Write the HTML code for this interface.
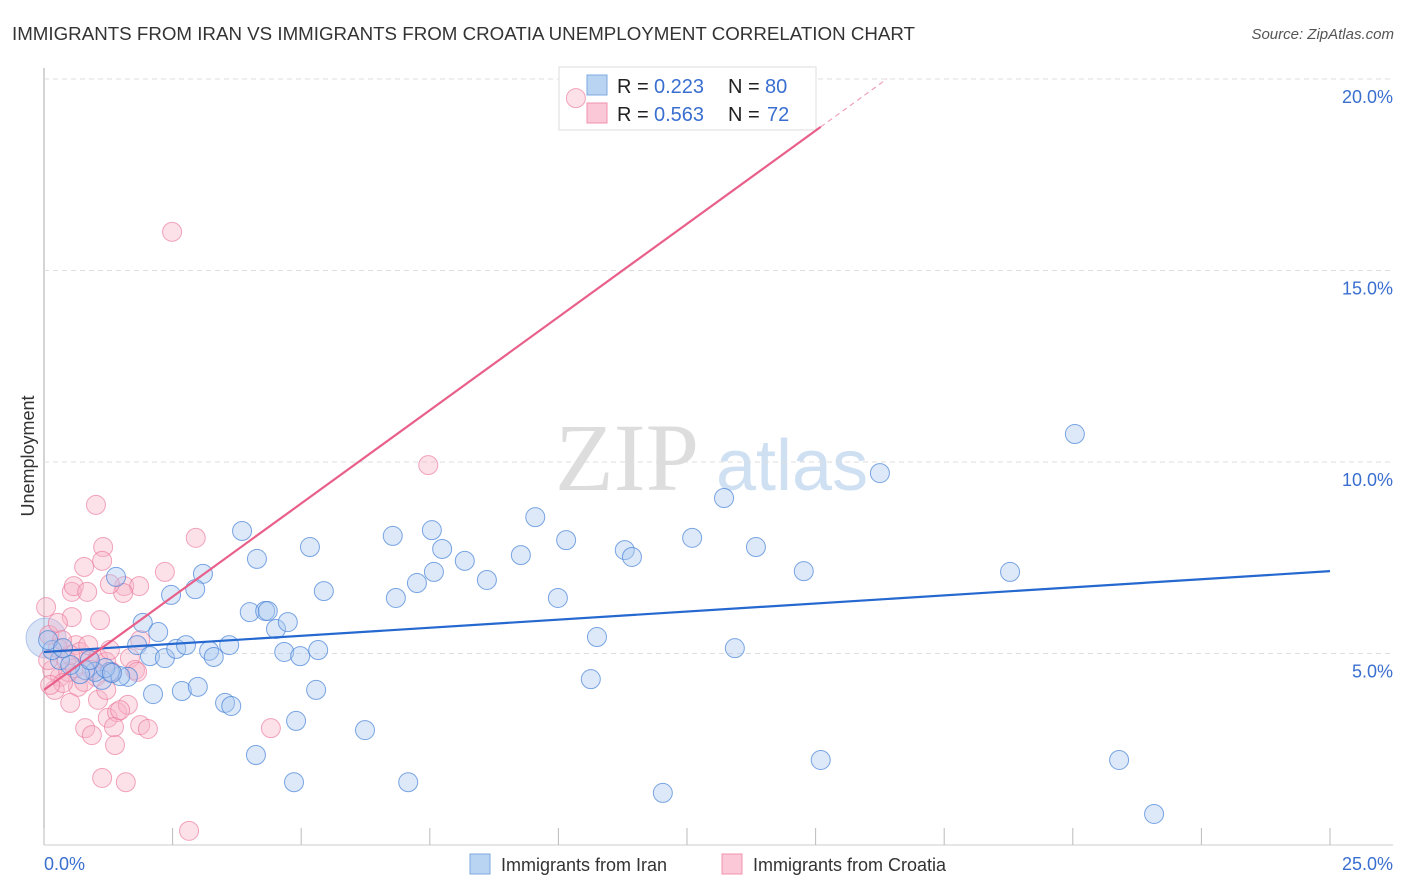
<!DOCTYPE html>
<html><head><meta charset="utf-8"><style>
body{margin:0;background:#fff;font-family:"Liberation Sans",sans-serif;}
svg{display:block}
</style></head><body>
<svg id="chart" width="1406" height="892">
<text x="12" y="40" font-size="18" fill="#333" textLength="903" lengthAdjust="spacingAndGlyphs">IMMIGRANTS FROM IRAN VS IMMIGRANTS FROM CROATIA UNEMPLOYMENT CORRELATION CHART</text>
<text x="1394" y="39" font-size="15" fill="#555" font-style="italic" text-anchor="end">Source: ZipAtlas.com</text>
<text x="34" y="456" font-size="18" fill="#333" text-anchor="middle" transform="rotate(-90 34 456)">Unemployment</text>
<text x="555" y="490" font-size="96" fill="#ddd" font-family="Liberation Serif,serif">ZIP</text>
<text x="716" y="490" font-size="72" fill="#cfe0f3">atlas</text>
<g id="grid"></g>
<g>
<rect x="559" y="67" width="257" height="63" fill="#fff" stroke="#ddd"/>
<rect x="587" y="75" width="20" height="20" fill="#b9d3f3" stroke="#7ea9e0"/>
<rect x="587" y="103" width="20" height="20" fill="#fbc8d7" stroke="#f090ac"/>
<text x="617" y="93" font-size="20" fill="#222">R =</text>
<text x="654" y="93" font-size="20" fill="#3a6fd0">0.223</text>
<text x="728" y="93" font-size="20" fill="#222">N =</text>
<text x="765" y="93" font-size="20" fill="#3a6fd0">80</text>
<text x="617" y="121" font-size="20" fill="#222">R =</text>
<text x="654" y="121" font-size="20" fill="#3a6fd0">0.563</text>
<text x="728" y="121" font-size="20" fill="#222">N =</text>
<text x="767" y="121" font-size="20" fill="#3a6fd0">72</text>
</g>
<g id="pts"></g><g id="lines"></g>
<rect x="470" y="854" width="20" height="20" fill="#b9d3f3" stroke="#7ea9e0"/>
<text x="501" y="871" font-size="18" fill="#333">Immigrants from Iran</text>
<rect x="722" y="854" width="20" height="20" fill="#fbc8d7" stroke="#f090ac"/>
<text x="753" y="871" font-size="18" fill="#333">Immigrants from Croatia</text>
</svg>
<script>
const yTicks=[5,10,15,20];
const yTickLabels=["5.0%","10.0%","15.0%","20.0%"];
const xLabels=["0.0%","25.0%"];
const iranX=[3.85,4.14,5.17,3.09,2.94,2.47,1.40,1.92,2.22,1.81,2.06,2.35,2.57,2.76,3.21,3.30,3.60,4.00,4.30,4.35,4.51,4.74,4.67,4.98,5.33,5.44,5.29,4.90,4.12,4.86,3.52,3.64,2.68,2.99,2.12,6.24,7.08,6.78,7.54,7.74,6.84,7.25,7.58,8.18,8.61,9.27,9.55,9.99,10.15,10.75,10.63,11.29,11.43,12.60,13.22,13.84,13.43,14.77,15.10,16.25,18.78,20.04,20.90,21.58,12.03,1.63,1.48,1.28,1.13,0.99,0.80,0.70,0.31,0.16,0.08,0.51,1.19,0.89,0.37,1.32];
const iranY=[8.20,7.47,7.78,7.08,6.68,6.53,7.00,5.80,5.56,5.22,4.93,4.88,5.12,5.22,5.07,4.91,5.22,6.08,6.11,6.11,5.64,5.82,5.04,4.93,5.09,6.63,4.05,3.24,2.35,1.64,3.71,3.63,4.02,4.13,3.94,3.00,1.64,8.07,8.22,7.73,6.45,6.84,7.13,7.42,6.92,7.57,8.56,6.45,7.96,5.43,4.33,7.70,7.52,8.02,9.06,7.78,5.14,7.15,2.22,9.71,7.13,10.73,2.22,0.81,1.36,4.39,4.41,4.52,4.31,4.52,4.57,4.46,4.83,5.09,5.35,4.70,4.62,4.83,5.14,4.49];
const croX=[0.04,0.54,0.58,0.84,1.01,1.15,1.13,0.78,1.56,1.85,1.54,1.28,2.35,2.95,2.49,7.47,10.34,2.82,0.54,0.10,0.27,0.62,0.70,0.89,1.05,1.21,1.67,1.77,1.32,1.01,0.66,0.31,0.16,0.47,0.78,1.05,0.51,1.24,1.42,1.63,0.80,0.93,1.38,1.36,1.87,2.02,1.13,1.59,4.41,1.81,0.43,0.08,0.21,0.37,0.60,1.28,1.87,0.27,1.09,1.48,0.93,0.51,0.35,0.12,0.86,1.21];
const croY=[6.21,6.61,6.76,6.61,8.88,7.78,7.42,7.26,6.76,6.76,6.58,6.81,7.13,8.02,16.01,9.92,19.50,0.37,5.95,5.48,5.14,5.22,5.04,4.83,4.88,4.78,4.88,4.57,4.52,4.39,4.13,4.39,4.57,4.52,4.26,3.79,3.71,3.32,3.47,3.66,3.05,2.87,2.61,3.08,3.13,3.03,1.75,1.64,3.05,4.52,4.83,4.83,4.05,4.23,4.62,5.09,5.35,5.80,5.87,3.52,4.57,4.96,5.35,4.18,5.22,4.05];
const iranTrend=[5.04,7.15];
const croTrend=[4.05,18.75];
const croTrendEndX=15.1;
const NS="http://www.w3.org/2000/svg";
const X0=44,X1=1330,Y0=845,YPX=38.3;
const sx=v=>X0+(X1-X0)*v/25, sy=v=>Y0-v*YPX;
function mk(tag,attrs,parent){const e=document.createElementNS(NS,tag);for(const k in attrs)e.setAttribute(k,attrs[k]);parent.appendChild(e);return e;}
const grid=document.getElementById('grid');
const ax=mk('line',{x1:X0,y1:68,x2:X0,y2:Y0,stroke:'#aaa'},grid);


const bx=mk('line',{x1:X0,y1:Y0,x2:1393,y2:Y0,stroke:'#ccc'},grid);


yTicks.forEach((t,i)=>{
 const g=mk('line',{x1:X0,y1:sy(t),x2:1393,y2:sy(t),stroke:'#ddd','stroke-dasharray':'5,4'},grid);
 
 
 const l=mk('text',{x:1393,y:sy(t)+24,'font-size':18,fill:'#3a6fd0','text-anchor':'end'},grid);
 l.textContent=yTickLabels[i];
 
 
});
for(let i=0;i<=10;i++){
 const t=mk('line',{x1:sx(i*2.5),y1:828,x2:sx(i*2.5),y2:Y0,stroke:'#bbb'},grid);
 
 
}
[[0,X0,'start'],[25,1393,'end']].forEach((a,i)=>{
 const l=mk('text',{x:i?1393:44,y:870,'font-size':18,fill:'#3a6fd0','text-anchor':a[2]},grid);
 l.textContent=xLabels[i];
 
 
});
const pts=document.getElementById('pts');
const big=mk('circle',{cx:46,cy:638,r:20,fill:'rgba(160,190,235,0.4)',stroke:'rgba(120,150,220,0.5)'},pts);


croX.forEach((x,i)=>{
 const c=mk('circle',{cx:sx(x),cy:sy(croY[i]),r:9.5,fill:'rgba(248,180,200,0.4)',stroke:'rgba(235,120,155,0.65)','stroke-width':1},pts);
 
 
});
iranX.forEach((x,i)=>{
 const c=mk('circle',{cx:sx(x),cy:sy(iranY[i]),r:9.5,fill:'rgba(170,200,240,0.4)',stroke:'rgba(70,130,215,0.7)','stroke-width':1},pts);
 
 
});
const lines=document.getElementById('lines');
const bl=mk('line',{x1:sx(0),y1:sy(iranTrend[0]),x2:sx(25),y2:sy(iranTrend[1]),stroke:'#2468d0','stroke-width':2.2},lines);


const slope=(croTrend[1]-croTrend[0])/croTrendEndX;
const pl=mk('line',{x1:sx(0),y1:sy(croTrend[0]),x2:sx(croTrendEndX),y2:sy(croTrend[1]),stroke:'#e8608a','stroke-width':2.2},lines);


const xe=(20-croTrend[0])/slope;
const pd=mk('line',{x1:sx(croTrendEndX),y1:sy(croTrend[1]),x2:sx(xe),y2:sy(20),stroke:'#f0a0b8','stroke-width':1.2,'stroke-dasharray':'5,4'},lines);


</script>
</body></html>
